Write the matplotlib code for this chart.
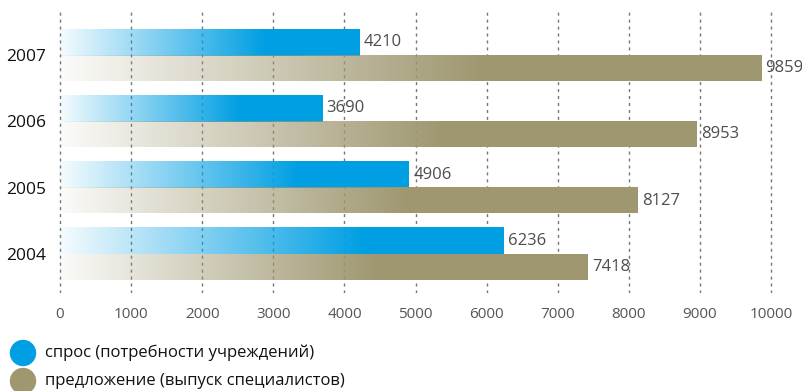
import numpy as np
import matplotlib
matplotlib.use("Agg")
import matplotlib.pyplot as plt
from matplotlib.patches import Ellipse
from matplotlib.colors import to_rgb

plt.rcParams['font.family'] = ['Open Sans', 'DejaVu Sans']

years = ['2004', '2005', '2006', '2007']
demand = [6236, 4906, 3690, 4210]
supply = [7418, 8127, 8953, 9859]
legend_labels = ['спрос (потребности учреждений)', 'предложение (выпуск специалистов)']
xticks = [0, 1000, 2000, 3000, 4000, 5000, 6000, 7000, 8000, 9000, 10000]

blue = '#009FE3'
olive = '#9E9770'

fig = plt.figure(figsize=(8.02, 3.91), dpi=100)
ax = fig.add_axes([0.066, 0.2506, 0.931, 0.724])

y = np.arange(len(years))
h = 0.39
b1 = ax.barh(y, demand, height=h, align='edge', color='none', left=0)
b2 = ax.barh(y, supply, height=-h, align='edge', color='none', left=0)


def gradient(color, frac):
    t = np.linspace(0, 1, 600)
    a = 0.04 + 0.96 * np.clip(t / frac, 0, 1)
    rgb = to_rgb(color)
    img = np.zeros((1, len(t), 4))
    img[..., 0] = rgb[0]
    img[..., 1] = rgb[1]
    img[..., 2] = rgb[2]
    img[..., 3] = a
    return img

# small overlap to avoid a white seam between the paired bars
ov = 0.008
for bars, col, frac, lo_ext, hi_ext in ((b1, blue, 0.68, ov, 0.0), (b2, olive, 0.6, 0.0, 0.0)):
    for bar in bars:
        x0 = bar.get_x()
        x1 = x0 + bar.get_width()
        y0 = bar.get_y()
        y1 = y0 + bar.get_height()
        lo, hi = min(y0, y1), max(y0, y1)
        ax.imshow(gradient(col, frac), extent=[x0, x1, lo - lo_ext, hi + hi_ext],
                  aspect='auto', interpolation='nearest', zorder=2, origin='lower')

for i in range(len(years)):
    ax.text(demand[i] + 60, y[i] + h / 2, str(demand[i]), va='center', ha='left',
            fontsize=12, color='#4d4d4d', zorder=3)
    ax.text(supply[i] + 60, y[i] - h / 2, str(supply[i]), va='center', ha='left',
            fontsize=12, color='#4d4d4d', zorder=3)

ax.set_xlim(-100, 10400)
ax.set_ylim(-0.59, 3.68)
ax.set_xticks(xticks)
ax.set_xticklabels([str(v) for v in xticks], fontsize=11, color='#555555')
ax.set_yticks(y)
ax.set_yticklabels(years, fontsize=12.5, color='#111111')
ax.tick_params(axis='x', length=0, pad=10)
ax.tick_params(axis='y', length=0, pad=5)
ax.grid(axis='x', linestyle=(0, (2.2, 2.8)), color='#777777', linewidth=1.0, zorder=0)
ax.set_axisbelow(True)
for s in ax.spines.values():
    s.set_visible(False)

W, H = 802, 391
for (cy, col, lab) in ((353, blue, legend_labels[0]), (381, olive, legend_labels[1])):
    fig.add_artist(Ellipse((23 / W, 1 - cy / H), 25 / W, 25 / H,
                           transform=fig.transFigure, color=col))
    fig.text(45 / W, 1 - cy / H, lab, fontsize=12, va='center', ha='left', color='#111111')

fig.savefig('out.png', dpi=100)
